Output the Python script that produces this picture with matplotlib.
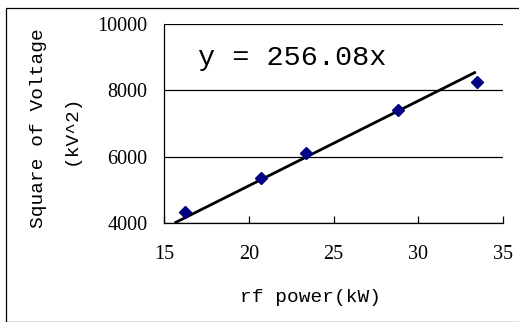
import numpy as np
import matplotlib
matplotlib.use("Agg")
import matplotlib.pyplot as plt
from matplotlib.patches import Rectangle

power_kw = [16.25, 20.7, 23.4, 28.8, 33.45]
voltage_sq = [4330, 5350, 6100, 7400, 8240]
slope = 256.08
fit_x = [15.62, 33.4]
x_ticks = [15, 20, 25, 30, 35]
y_ticks = [4000, 6000, 8000, 10000]

W, H = 519, 322
fig = plt.figure(figsize=(W / 100, H / 100), dpi=100)
fig.patch.set_facecolor("white")

# outer frame
fig.patches.append(Rectangle((6 / W, 0), 1.2, 1 - 8 / H, transform=fig.transFigure,
                             fill=False, edgecolor="black", linewidth=0.9))

ax = fig.add_axes([164 / W, 1 - 223 / H, (503 - 164) / W, (223 - 24) / H])
ax.set_xlim(15, 35)
ax.set_ylim(4000, 10000)
ax.set_xticks(x_ticks)
ax.set_yticks(y_ticks)

for s in ["top", "right"]:
    ax.spines[s].set_visible(False)
for s in ["left", "bottom"]:
    ax.spines[s].set_color("black")
    ax.spines[s].set_linewidth(0.9)

ax.yaxis.grid(True, color="black", linewidth=0.9)
ax.set_axisbelow(True)

ax.tick_params(axis="x", direction="in", length=5, width=0.9, pad=16,
               labelsize=14.5)
ax.tick_params(axis="y", length=0, pad=12, labelsize=14.5)
for lab in ax.get_xticklabels() + ax.get_yticklabels():
    lab.set_fontfamily("Liberation Serif")

fx = np.array(fit_x)
ax.plot(fx, slope * fx, color="black", linewidth=2.0, zorder=3,
        solid_capstyle="butt")
ax.plot(power_kw, voltage_sq, linestyle="none", marker="D", markersize=6,
        color="#000080", zorder=4, clip_on=False)

ax.text(198 / W, 1 - 65 / H, "y = 256.08x", transform=fig.transFigure,
        fontfamily="Liberation Mono", fontsize=20.5, ha="left", va="baseline")

fig.text(310 / W, 1 - 297 / H, "rf power(kW)", fontfamily="Liberation Mono",
         fontsize=14, ha="center", va="center")
fig.text(39 / W, 1 - 128 / H, "Square of Voltage", fontfamily="Liberation Mono",
         fontsize=14, ha="center", va="center", rotation=90)
fig.text(71 / W, 1 - 130 / H, "(kV^2)", fontfamily="Liberation Mono",
         fontsize=14, ha="center", va="center", rotation=90)

fig.savefig("out.png", dpi=100)
